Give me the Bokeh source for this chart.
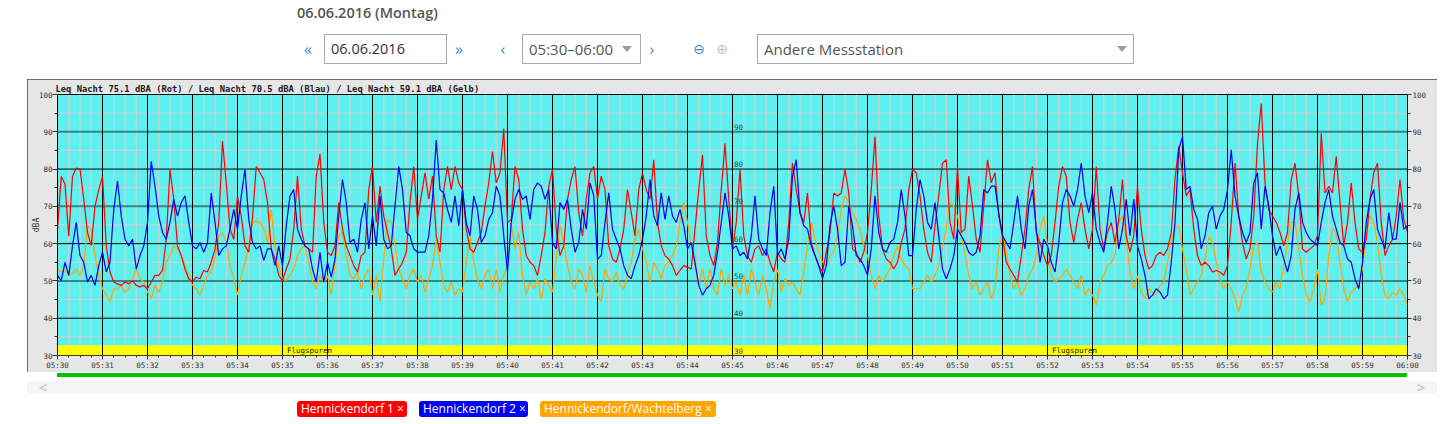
import numpy as np
from bokeh.plotting import figure
from bokeh.models import Range1d, FixedTicker, LinearAxis, Div
from bokeh.layouts import column
from bokeh.embed import file_html
from bokeh.resources import INLINE
from bokeh.core.properties import value

# ---------------- data ----------------
sample_step_s = 5  # one reading every 5 s from 05:30:00 to 06:00:00

x_tick_labels = ["05:30", "05:31", "05:32", "05:33", "05:34", "05:35", "05:36", "05:37",
                 "05:38", "05:39", "05:40", "05:41", "05:42", "05:43", "05:44", "05:45",
                 "05:46", "05:47", "05:48", "05:49", "05:50", "05:51", "05:52", "05:53",
                 "05:54", "05:55", "05:56", "05:57", "05:58", "05:59", "06:00"]

y_major_ticks = [30, 40, 50, 60, 70, 80, 90, 100]
y_minor_ticks = [35, 45, 55, 65, 75, 85, 95]
y_black_lines = [40, 60, 80]
y_teal_lines = [50, 70, 90]

center_scale_values = [90, 80, 70, 60, 50, 40, 30]
center_scale_labels = ["90", "80", "70", "60", "50", "40", "30"]
center_scale_t = 900  # 05:45

flug_band = [30.0, 32.75]
flug_label_t = [336, 1356]
flug_label_text = ["Flugspuren", "Flugspuren"]

leq_title = "Leq Nacht 75.1 dBA (Rot) / Leq Nacht 70.5 dBA (Blau) / Leq Nacht 59.1 dBA (Gelb)"
y_unit = "dBA"

station_names = ["Hennickendorf 1", "Hennickendorf 2", "Hennickendorf/Wachtelberg"]
station_colors = ["#ff0000", "#0000f5", "#ffa500"]

leq_red = [
    63.9, 78.0, 76.0, 62.0, 78.0, 80.3, 80.0, 72.0, 63.0, 59.5, 70.0, 74.5,
    78.0, 59.5, 52.4, 49.7, 49.2, 48.8, 49.7, 49.2, 50.1, 48.8, 48.4, 48.8,
    47.9, 49.7, 51.5, 51.5, 52.8, 61.2, 79.9, 71.9, 59.4, 56.8, 53.2, 50.6,
    49.7, 51.0, 50.6, 52.8, 52.4, 55.0, 58.6, 65.7, 87.5, 76.3, 63.9, 61.2,
    72.6, 67.4, 59.4, 57.7, 67.0, 80.7, 79.0, 77.2, 71.0, 58.6, 55.9, 51.5,
    50.1, 53.2, 55.9, 63.9, 78.1, 63.9, 59.4, 58.6, 57.7, 78.1, 84.0, 65.7,
    57.7, 56.8, 59.4, 71.0, 63.9, 59.4, 56.8, 54.1, 52.4, 56.8, 57.7, 74.5,
    80.7, 65.7, 75.4, 67.4, 63.0, 58.6, 51.5, 53.2, 55.0, 57.7, 71.0, 80.7,
    66.5, 72.8, 79.0, 71.9, 78.1, 62.1, 57.7, 74.5, 80.7, 74.5, 80.7, 76.3,
    74.5, 63.9, 58.6, 57.7, 60.3, 63.0, 70.1, 76.3, 84.7, 76.3, 79.0, 90.9,
    65.7, 66.5, 80.7, 77.2, 63.9, 56.8, 55.0, 54.1, 51.5, 56.8, 63.0, 75.4,
    79.9, 63.9, 56.8, 59.4, 71.9, 77.2, 80.7, 68.3, 62.1, 71.9, 79.0, 80.7,
    72.0, 78.1, 74.5, 59.4, 55.9, 55.0, 58.6, 63.9, 74.5, 68.3, 62.1, 74.5,
    79.0, 74.5, 71.9, 82.5, 65.7, 59.4, 56.8, 55.9, 54.1, 51.5, 52.8, 54.1,
    53.7, 53.2, 63.9, 74.5, 83.8, 62.1, 56.8, 54.1, 60.3, 74.5, 86.9, 71.9,
    58.6, 65.7, 79.9, 62.1, 56.8, 55.0, 58.6, 59.4, 56.8, 58.6, 55.0, 52.4,
    57.7, 55.9, 55.0, 65.7, 81.6, 74.5, 68.3, 65.7, 73.6, 60.3, 56.8, 54.1,
    52.4, 57.7, 63.0, 73.6, 72.8, 73.6, 79.9, 73.6, 58.6, 57.7, 55.0, 57.7,
    63.0, 74.5, 88.7, 67.4, 58.6, 55.9, 55.0, 53.2, 55.0, 60.3, 63.9, 74.5,
    79.9, 79.0, 72.8, 63.9, 57.7, 55.0, 64.8, 72.8, 81.6, 82.5, 65.7, 61.2,
    80.7, 63.0, 63.9, 78.1, 70.1, 61.2, 57.7, 70.1, 82.5, 76.3, 79.0, 67.4,
    62.1, 55.0, 53.2, 51.5, 49.7, 56.8, 63.9, 74.5, 80.7, 63.0, 60.3, 56.8,
    54.1, 56.8, 65.7, 75.4, 80.7, 78.1, 65.7, 60.3, 66.5, 71.0, 63.9, 58.6,
    63.9, 80.7, 63.9, 58.6, 63.0, 65.7, 60.3, 66.5, 77.2, 62.1, 57.7, 62.1,
    75.4, 63.9, 56.8, 53.2, 54.1, 56.8, 57.7, 56.8, 58.6, 63.0, 77.2, 86.1,
    79.0, 72.8, 74.5, 63.9, 56.8, 54.1, 55.0, 54.1, 52.4, 52.8, 52.4, 51.5,
    54.1, 65.7, 81.6, 67.4, 60.3, 55.9, 58.6, 67.4, 86.9, 97.6, 76.3, 69.2,
    67.4, 65.7, 63.0, 59.4, 63.0, 77.2, 81.6, 72.8, 58.6, 57.7, 58.6, 59.4,
    62.1, 89.6, 73.6, 75.4, 73.6, 83.4, 71.0, 59.4, 65.7, 76.3, 65.7, 58.6,
    57.7, 61.2, 71.9, 79.0, 81.6, 65.7, 56.8, 59.4, 61.2, 67.4, 77.2, 66.5,
    63.0,
]

leq_blue = [
    51.5, 50.1, 55.0, 51.5, 59.4, 65.7, 56.8, 55.0, 49.7, 51.5, 48.8, 54.1,
    57.7, 52.4, 55.0, 69.2, 76.8, 67.4, 61.2, 59.4, 61.2, 53.2, 56.8, 59.4,
    65.7, 82.1, 75.4, 67.4, 63.0, 61.2, 65.7, 71.9, 67.4, 71.0, 72.8, 65.7,
    59.4, 58.6, 60.3, 57.7, 60.3, 73.6, 65.7, 56.8, 58.6, 59.4, 63.9, 69.2,
    63.9, 72.8, 79.9, 66.5, 60.3, 58.6, 59.4, 55.5, 58.6, 58.6, 54.1, 59.4,
    54.1, 64.8, 72.8, 74.5, 63.9, 61.2, 59.4, 58.6, 53.2, 49.7, 57.7, 49.7,
    55.0, 51.0, 55.9, 67.4, 77.2, 71.0, 60.3, 61.2, 57.7, 66.5, 71.0, 58.6,
    67.4, 59.4, 72.8, 61.2, 58.6, 59.4, 70.1, 80.7, 74.5, 63.0, 62.1, 58.6,
    57.7, 57.7, 57.7, 62.1, 71.9, 87.8, 74.5, 73.6, 69.2, 65.7, 72.8, 64.8,
    74.5, 65.7, 62.1, 72.8, 69.2, 60.3, 62.1, 66.5, 68.3, 75.4, 72.8, 62.1,
    52.4, 65.7, 71.9, 74.5, 71.9, 72.8, 66.5, 74.5, 76.3, 75.4, 71.9, 74.5,
    60.3, 58.6, 71.0, 69.2, 71.9, 63.9, 57.7, 60.3, 69.2, 63.9, 76.3, 72.8,
    55.9, 56.8, 65.7, 73.6, 63.9, 61.2, 58.6, 54.1, 51.5, 50.6, 54.1, 56.8,
    61.2, 67.4, 77.2, 67.4, 64.8, 73.6, 66.5, 72.8, 67.4, 65.7, 69.2, 64.8,
    58.6, 60.3, 55.0, 48.8, 46.2, 47.9, 48.8, 51.5, 57.7, 65.7, 73.6, 67.4,
    58.6, 59.4, 56.8, 57.7, 55.9, 62.1, 72.8, 61.2, 58.6, 56.8, 68.3, 75.4,
    56.8, 58.6, 55.9, 61.2, 78.1, 82.5, 68.3, 64.8, 63.9, 59.4, 56.8, 54.1,
    50.6, 54.1, 64.8, 70.1, 63.9, 54.1, 55.0, 70.1, 64.8, 56.8, 55.9, 54.1,
    51.5, 58.6, 72.8, 63.0, 58.6, 57.7, 60.3, 61.2, 65.7, 74.5, 67.4, 56.8,
    56.8, 69.2, 77.2, 72.8, 65.7, 63.9, 71.0, 62.1, 53.2, 50.6, 53.2, 56.8,
    63.9, 62.1, 60.3, 57.7, 56.8, 57.7, 62.1, 74.5, 73.6, 75.4, 75.4, 68.3,
    62.1, 60.3, 58.6, 65.7, 72.8, 63.9, 58.6, 70.1, 74.5, 63.9, 55.0, 61.2,
    59.4, 55.0, 52.4, 60.3, 71.0, 74.5, 72.8, 70.1, 74.5, 81.6, 72.8, 68.3,
    73.6, 63.9, 60.3, 57.7, 65.7, 75.4, 69.2, 58.6, 63.9, 71.9, 62.1, 71.9,
    59.4, 55.9, 51.5, 45.2, 46.2, 47.9, 47.0, 45.2, 46.2, 55.0, 65.7, 85.2,
    88.7, 74.5, 75.4, 69.2, 66.5, 58.6, 62.1, 68.3, 70.1, 63.9, 67.4, 69.2,
    74.5, 85.2, 72.8, 67.4, 63.0, 60.3, 63.0, 76.3, 79.0, 63.9, 75.4, 70.1,
    62.1, 56.8, 59.4, 55.9, 52.4, 56.8, 69.2, 73.6, 65.7, 63.0, 61.2, 60.3,
    59.4, 65.7, 71.0, 74.5, 67.4, 63.9, 60.3, 59.4, 55.9, 55.0, 50.6, 47.9,
    55.0, 65.7, 71.9, 74.5, 63.9, 61.2, 58.6, 68.3, 61.2, 61.2, 71.0, 63.9,
    64.8,
]

leq_orange = [
    53.2, 52.4, 52.8, 51.5, 51.9, 53.2, 51.5, 54.1, 64.8, 63.9, 56.8, 51.5,
    47.9, 46.2, 44.4, 47.9, 47.9, 48.8, 47.0, 47.9, 50.6, 53.2, 50.6, 49.7,
    47.0, 45.2, 48.8, 47.0, 49.7, 55.0, 56.8, 59.4, 58.6, 56.8, 54.1, 51.5,
    48.8, 47.9, 46.2, 48.8, 51.5, 52.4, 55.9, 62.1, 63.0, 60.3, 54.1, 50.6,
    46.2, 51.5, 55.0, 59.4, 65.7, 66.1, 65.7, 63.9, 60.3, 69.2, 59.4, 54.1,
    50.6, 50.1, 51.5, 53.2, 56.8, 58.6, 59.4, 55.0, 49.7, 47.9, 51.5, 49.7,
    51.5, 46.2, 55.0, 62.1, 63.0, 56.8, 51.5, 50.6, 52.4, 47.9, 51.5, 53.2,
    46.2, 51.5, 44.4, 55.9, 66.5, 65.7, 59.4, 53.2, 50.6, 47.9, 51.5, 53.2,
    49.7, 51.5, 47.0, 50.6, 54.1, 61.2, 55.0, 48.8, 47.0, 49.7, 46.2, 47.9,
    47.0, 55.0, 62.1, 55.0, 50.6, 47.9, 51.5, 53.2, 47.9, 53.2, 47.0, 51.5,
    54.1, 64.8, 58.6, 63.0, 51.5, 46.2, 49.7, 47.9, 50.6, 45.2, 50.6, 48.8,
    47.0, 55.9, 64.8, 60.3, 54.1, 49.7, 47.9, 53.2, 51.5, 47.0, 54.1, 49.7,
    46.2, 44.4, 53.2, 50.6, 49.7, 52.4, 48.8, 47.9, 51.5, 55.0, 61.2, 63.9,
    58.6, 55.0, 49.7, 55.0, 53.2, 50.6, 54.1, 55.0, 56.8, 59.4, 65.7, 71.0,
    65.7, 59.4, 54.1, 48.8, 53.2, 47.9, 53.2, 47.9, 46.2, 53.2, 48.8, 51.5,
    47.9, 49.7, 46.2, 51.5, 46.2, 53.2, 49.7, 46.2, 51.5, 47.9, 42.6, 49.7,
    53.2, 47.0, 50.6, 48.8, 49.7, 47.9, 46.2, 52.4, 59.4, 65.7, 61.2, 57.7,
    55.0, 54.1, 56.8, 57.7, 62.1, 69.2, 72.8, 71.0, 68.3, 66.5, 63.9, 59.4,
    56.8, 51.5, 47.9, 51.5, 49.7, 51.5, 53.2, 56.8, 59.4, 55.9, 54.1, 53.2,
    47.9, 47.9, 47.9, 49.7, 51.5, 49.7, 51.5, 54.1, 59.4, 63.9, 71.0, 70.1,
    67.4, 62.1, 56.8, 51.5, 47.9, 49.7, 46.2, 47.9, 49.7, 45.2, 47.9, 58.6,
    63.0, 57.7, 51.5, 47.9, 49.7, 46.2, 47.9, 51.5, 53.2, 56.8, 63.9, 67.4,
    59.4, 51.5, 49.7, 50.6, 51.5, 53.2, 51.5, 49.7, 47.9, 51.5, 46.2, 47.9,
    46.2, 43.5, 49.7, 51.5, 54.1, 55.0, 56.8, 65.7, 67.4, 61.2, 52.4, 47.9,
    51.5, 47.0, 45.2, 47.9, 47.0, 46.2, 48.8, 49.7, 55.0, 61.2, 63.9, 64.8,
    58.6, 53.2, 46.2, 47.9, 49.7, 51.5, 55.9, 61.8, 60.3, 55.0, 50.6, 47.9,
    49.7, 47.9, 45.2, 41.7, 46.2, 47.9, 53.2, 59.4, 60.3, 52.4, 49.7, 47.9,
    47.0, 49.7, 47.9, 54.1, 60.3, 65.7, 65.7, 58.6, 51.5, 46.2, 44.4, 47.9,
    53.2, 43.5, 45.2, 56.8, 63.9, 63.0, 55.0, 47.9, 44.4, 47.0, 47.9, 48.8,
    53.2, 62.1, 67.4, 65.7, 60.3, 51.5, 46.2, 45.2, 47.0, 46.2, 47.9, 46.2,
    43.5,
]

# ---------------- derived positions ----------------
minute_ticks = [i * 60 for i in range(len(x_tick_labels))]
quarter_ticks = [i * 15 for i in range(4 * (len(x_tick_labels) - 1) + 1) if i % 4]
t_end = minute_ticks[-1]

t_red = np.arange(len(leq_red)) * sample_step_s
t_blue = np.arange(len(leq_blue)) * sample_step_s
t_orange = np.arange(len(leq_orange)) * sample_step_s

MONO = "DejaVu Sans Mono"

p = figure(width=1410, height=293, x_range=Range1d(0, t_end), y_range=Range1d(30, 100),
           output_backend="svg", toolbar_location=None,
           min_border_left=30, min_border_right=30, min_border_top=15, min_border_bottom=15,
           background_fill_color="#5ef0ef", border_fill_color="#e6e6e6",
           outline_line_color="#000000", outline_line_width=1, margin=(0, 0, 0, 19))
p.styles = {"outline": "1px solid #444444", "outline-offset": "-1px"}
p.xgrid.visible = False
p.ygrid.visible = False

# title line inside the grey panel
p.title.text = leq_title
p.title.align = "left"
p.title.offset = -2
p.title.standoff = 2
p.title.text_font = MONO
p.title.text_font_size = "8.8px"
p.title.text_font_style = "bold"
p.title.text_color = "#1a1a1a"

# light grid
p.segment(x0=quarter_ticks, y0=30, x1=quarter_ticks, y1=100, line_color="#d9cfcf", line_width=1)
p.segment(x0=0, y0=y_minor_ticks, x1=t_end, y1=y_minor_ticks, line_color="#d9cfcf", line_width=1)
# yellow band
p.quad(left=[0], right=[t_end], bottom=[flug_band[0]], top=[flug_band[1]],
       fill_color="#ffff00", line_color=None)
# major grid
p.segment(x0=0, y0=y_teal_lines, x1=t_end, y1=y_teal_lines, line_color="#3d8383", line_width=2)
p.segment(x0=0, y0=y_black_lines, x1=t_end, y1=y_black_lines, line_color="#000000", line_width=1)
p.segment(x0=minute_ticks, y0=30, x1=minute_ticks, y1=100, line_color="#000000", line_width=1)

# scale labels in the middle and flight-track labels
p.text(x=[center_scale_t] * len(center_scale_values),
       y=[v + 0.5 for v in center_scale_values], text=center_scale_labels,
       x_offset=1.5, text_font=value(MONO), text_font_size="7.5px", text_color="#2b4c4c",
       text_align="left", text_baseline="bottom")
p.text(x=flug_label_t, y=[(flug_band[0] + flug_band[1]) / 2] * len(flug_label_t),
       text=flug_label_text, text_font=value(MONO), text_font_size="7.5px",
       text_color="#111111", text_align="center", text_baseline="middle")

# measurement series
p.line(t_orange, leq_orange, line_color=station_colors[2], line_width=1.2)
p.line(t_red, leq_red, line_color=station_colors[0], line_width=1.2)
p.line(t_blue, leq_blue, line_color=station_colors[1], line_width=1.2)

# axes
def style_axis(ax, tick_out, minor_out, standoff):
    ax.axis_line_color = None
    ax.major_tick_in = 0
    ax.minor_tick_in = 0
    ax.major_tick_out = tick_out
    ax.minor_tick_out = minor_out
    ax.major_tick_line_color = "#333333"
    ax.minor_tick_line_color = "#333333"
    ax.major_label_standoff = standoff
    ax.major_label_text_font = MONO
    ax.major_label_text_font_size = "7.5px"
    ax.major_label_text_color = "#333333"
    ax.axis_label_standoff = 0

xax = p.xaxis[0]
xax.ticker = FixedTicker(ticks=minute_ticks, minor_ticks=quarter_ticks)
xax.major_label_overrides = {t: lab for t, lab in zip(minute_ticks, x_tick_labels)}
style_axis(xax, 4, 2, 1)

yax = p.yaxis[0]
yax.ticker = FixedTicker(ticks=y_major_ticks, minor_ticks=y_minor_ticks)
style_axis(yax, 5, 3, 0)
yax.axis_label = y_unit
yax.axis_label_standoff = -5
yax.axis_label_text_font = MONO
yax.axis_label_text_font_size = "8px"
yax.axis_label_text_font_style = "normal"
yax.axis_label_text_color = "#333333"

rax = LinearAxis(ticker=FixedTicker(ticks=y_major_ticks, minor_ticks=y_minor_ticks))
style_axis(rax, 4, 3, 1)
p.add_layout(rax, "right")

# ---------------- page header (HTML controls) ----------------
BLUE_UI = "#4a86c0"
header_html = f"""
<div style="position:relative;width:1431px;height:71px;font-family:'Open Sans',sans-serif;overflow:visible;">
  <div style="position:absolute;left:289px;top:-4px;font-size:14.5px;font-weight:600;color:#555;line-height:18px;white-space:nowrap;">06.06.2016 (Montag)</div>
  <div style="position:absolute;left:290px;top:26px;width:20px;height:30px;line-height:30px;text-align:center;font-size:16px;color:{BLUE_UI};">&laquo;</div>
  <div style="position:absolute;left:316px;top:26px;width:123px;height:30px;box-sizing:border-box;border:1px solid #aaa;background:#fff;padding-left:6px;font-size:14.5px;line-height:28px;color:#333;white-space:nowrap;">06.06.2016</div>
  <div style="position:absolute;left:441px;top:26px;width:20px;height:30px;line-height:30px;text-align:center;font-size:16px;color:{BLUE_UI};">&raquo;</div>
  <div style="position:absolute;left:485px;top:26px;width:20px;height:30px;line-height:30px;text-align:center;font-size:16px;color:{BLUE_UI};">&lsaquo;</div>
  <div style="position:absolute;left:514px;top:26px;width:119px;height:30px;box-sizing:border-box;border:1px solid #aaa;background:#fff;padding-left:6px;font-size:15px;line-height:28px;color:#555;white-space:nowrap;">05:30&ndash;06:00</div>
  <div style="position:absolute;left:614px;top:38px;width:0;height:0;border-left:5px solid transparent;border-right:5px solid transparent;border-top:6px solid #9a9a9a;"></div>
  <div style="position:absolute;left:634px;top:26px;width:20px;height:30px;line-height:30px;text-align:center;font-size:16px;color:{BLUE_UI};">&rsaquo;</div>
  <div style="position:absolute;left:681px;top:26px;width:20px;height:30px;line-height:30px;text-align:center;font-family:'DejaVu Sans';font-size:14px;color:{BLUE_UI};">&#8854;</div>
  <div style="position:absolute;left:704px;top:26px;width:20px;height:30px;line-height:30px;text-align:center;font-family:'DejaVu Sans';font-size:14px;color:#c2c2c2;">&#8853;</div>
  <div style="position:absolute;left:749px;top:26px;width:377px;height:30px;box-sizing:border-box;border:1px solid #aaa;background:#fff;padding-left:6px;font-size:15px;line-height:28px;color:#555;white-space:nowrap;">Andere Messstation</div>
  <div style="position:absolute;left:1109px;top:38px;width:0;height:0;border-left:5px solid transparent;border-right:5px solid transparent;border-top:6px solid #9a9a9a;"></div>
</div>
"""
header = Div(text=header_html, width=1431, height=71, margin=(0, 0, 0, 0))

# ---------------- footer (green bar, scroller, station tags) ----------------
tag_lefts = [289, 411, 532]
tag_widths = [110, 109, 176]
tags = "".join(
    f'<div style="position:absolute;left:{l}px;top:29px;width:{w}px;height:16px;box-sizing:border-box;'
    f'border-radius:3px;background:{c};color:#fff;font-size:12px;line-height:16px;padding-left:4px;'
    f'white-space:nowrap;overflow:hidden;">{n} &times;</div>'
    for n, c, l, w in zip(station_names, station_colors, tag_lefts, tag_widths))
footer_html = f"""
<div style="position:relative;width:1431px;height:44px;font-family:'Open Sans',sans-serif;">
  <div style="position:absolute;left:49px;top:1px;width:1350px;height:4px;background:#00c400;"></div>
  <div style="position:absolute;left:19px;top:9px;width:1410px;height:12px;background:#f5f5f5;"></div>
  <div style="position:absolute;left:28px;top:6px;width:14px;height:18px;line-height:18px;text-align:center;font-size:15px;font-weight:600;color:#c8c8c8;">&lt;</div>
  <div style="position:absolute;left:1406px;top:6px;width:14px;height:18px;line-height:18px;text-align:center;font-size:15px;font-weight:600;color:#c8c8c8;">&gt;</div>
  {tags}
</div>
"""
footer = Div(text=footer_html, width=1431, height=44, margin=(0, 0, 0, 0))

# the page is shown without a body margin, so offset the whole layout by 8 px
layout = column(header, p, footer, spacing=0, margin=(8, 0, 0, 8))

open("out.html", "w").write(file_html(layout, INLINE))
